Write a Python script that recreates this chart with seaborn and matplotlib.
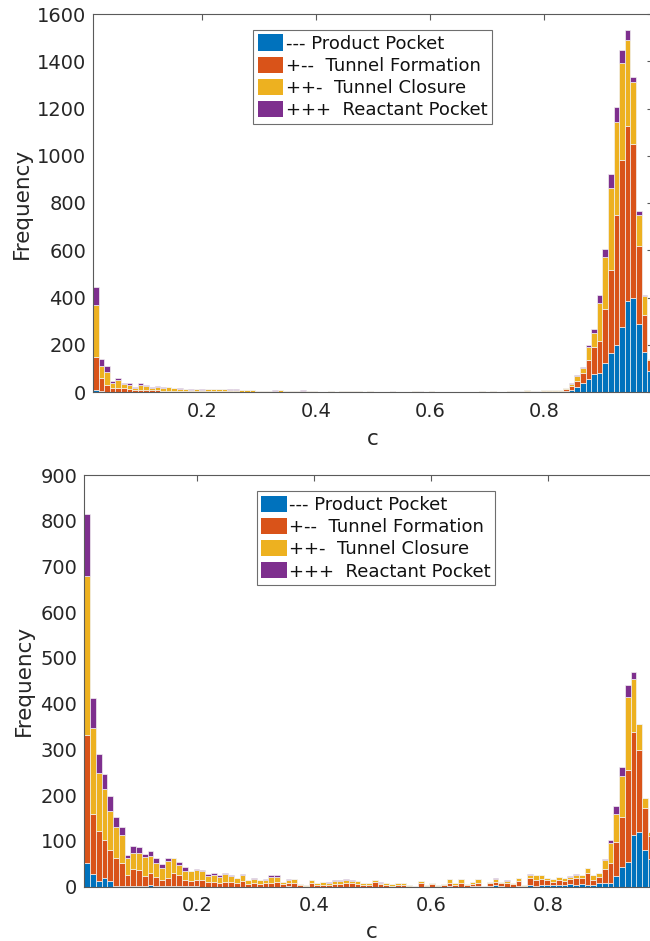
import numpy as np
import pandas as pd
import matplotlib
matplotlib.use("Agg")
import matplotlib.pyplot as plt
import seaborn as sns
from matplotlib.patches import Patch

# Histogram bins on the reaction coordinate c
bin_lo, bin_hi, n_bins = 0.008, 0.990, 100
edges = [float(e) for e in np.linspace(bin_lo, bin_hi, n_bins + 1)]
centers = [(a + b) / 2 for a, b in zip(edges[:-1], edges[1:])]

state_labels = ["--- Product Pocket", "+--  Tunnel Formation",
                "++-  Tunnel Closure", "+++  Reactant Pocket"]
state_colors = ["#0072BD", "#D95319", "#EDB120", "#7E2F8E"]

x_ticks = [0.2, 0.4, 0.6, 0.8]

# ---- upper panel: counts per bin for each state ----
top_product = [
    10, 3, 2, 1, 1, 1, 1, 0, 0, 0,
    0, 0, 0, 0, 0, 0, 0, 0, 0, 0,
    0, 0, 0, 0, 0, 0, 0, 0, 0, 0,
    0, 0, 0, 0, 0, 0, 0, 0, 0, 0,
    0, 0, 0, 0, 0, 0, 0, 0, 0, 0,
    0, 0, 0, 0, 0, 0, 0, 0, 0, 0,
    0, 0, 0, 0, 0, 0, 0, 0, 0, 0,
    0, 0, 0, 0, 0, 0, 0, 0, 0, 0,
    0, 0, 0, 1, 3, 10, 20, 37, 55, 76,
    79, 121, 166, 199, 276, 384, 398, 287, 170, 90,
]
top_formation = [
    138, 57, 26, 16, 16, 16, 13, 8, 8, 8,
    7, 8, 6, 6, 5, 5, 5, 4, 4, 3,
    3, 3, 4, 3, 3, 3, 2, 2, 2, 1,
    2, 1, 2, 2, 2, 1, 2, 1, 1, 1,
    0, 0, 0, 0, 1, 2, 2, 0, 0, 1,
    0, 0, 1, 3, 2, 0, 0, 2, 3, 0,
    0, 0, 0, 0, 0, 2, 0, 2, 0, 0,
    0, 1, 0, 2, 1, 2, 3, 3, 2, 3,
    3, 4, 4, 5, 8, 15, 25, 43, 80, 113,
    138, 232, 352, 551, 708, 744, 650, 330, 155, 45,
]
top_closure = [
    219, 50, 57, 23, 32, 17, 14, 9, 20, 17,
    11, 14, 12, 14, 10, 9, 8, 6, 8, 7,
    9, 8, 8, 8, 7, 7, 7, 5, 5, 4,
    4, 3, 4, 5, 3, 2, 3, 4, 2, 2,
    0, 2, 3, 0, 2, 3, 2, 3, 0, 3,
    0, 0, 1, 1, 0, 0, 0, 1, 0, 0,
    3, 0, 2, 0, 2, 0, 0, 0, 0, 3,
    0, 4, 0, 0, 2, 3, 3, 4, 3, 3,
    4, 5, 3, 4, 6, 10, 23, 22, 54, 62,
    160, 219, 347, 392, 407, 363, 263, 131, 80, 5,
]
top_reactant = [
    79, 31, 24, 5, 10, 6, 9, 4, 9, 6,
    2, 3, 3, 2, 3, 2, 1, 2, 1, 1,
    2, 1, 2, 2, 1, 2, 1, 0, 1, 0,
    0, 0, 1, 1, 1, 0, 0, 2, 1, 2,
    0, 0, 0, 0, 0, 0, 0, 0, 0, 0,
    0, 0, 0, 0, 0, 0, 0, 0, 0, 0,
    0, 0, 0, 0, 0, 0, 0, 0, 0, 0,
    0, 0, 0, 0, 1, 0, 0, 0, 0, 0,
    1, 0, 0, 0, 1, 2, 4, 5, 10, 14,
    33, 35, 59, 63, 56, 41, 24, 18, 7, 0,
]

# ---- lower panel ----
bottom_product = [
    52, 27, 13, 20, 13, 2, 1, 1, 1, 1,
    1, 3, 1, 1, 1, 1, 1, 1, 1, 1,
    0, 0, 0, 0, 0, 0, 0, 0, 0, 0,
    0, 0, 0, 0, 0, 1, 0, 0, 0, 0,
    0, 0, 0, 0, 0, 0, 0, 0, 0, 0,
    0, 0, 0, 0, 0, 0, 0, 0, 0, 0,
    0, 0, 0, 1, 0, 0, 0, 2, 1, 0,
    2, 3, 2, 0, 0, 2, 0, 3, 2, 4,
    4, 3, 4, 3, 5, 4, 5, 4, 4, 7,
    9, 9, 23, 42, 53, 113, 120, 80, 60, 30,
]
bottom_formation = [
    280, 131, 109, 82, 67, 60, 50, 25, 37, 35,
    23, 28, 21, 14, 19, 30, 25, 14, 12, 14,
    15, 10, 11, 9, 10, 10, 9, 12, 6, 7,
    6, 7, 9, 10, 5, 6, 8, 3, 2, 8,
    4, 4, 4, 6, 6, 7, 7, 6, 4, 3,
    10, 5, 3, 2, 4, 4, 2, 2, 8, 2,
    5, 2, 3, 7, 4, 8, 3, 4, 7, 2,
    5, 8, 5, 8, 5, 10, 2, 15, 13, 12,
    10, 8, 11, 10, 11, 14, 14, 25, 11, 15,
    29, 42, 75, 111, 202, 226, 179, 93, 50, 25,
]
bottom_closure = [
    347, 190, 126, 111, 86, 69, 63, 36, 36, 37,
    40, 37, 30, 25, 36, 31, 21, 19, 22, 21,
    19, 14, 15, 13, 17, 14, 10, 14, 8, 9,
    8, 8, 13, 12, 5, 7, 8, 3, 2, 6,
    5, 6, 5, 7, 7, 7, 6, 6, 5, 4,
    4, 4, 4, 3, 5, 5, 2, 0, 4, 2,
    4, 2, 2, 8, 5, 9, 3, 5, 8, 0,
    4, 5, 4, 5, 4, 6, 2, 8, 10, 9,
    6, 5, 6, 6, 6, 7, 6, 12, 11, 9,
    20, 44, 62, 89, 160, 116, 56, 20, 10, 5,
]
bottom_reactant = [
    136, 64, 41, 33, 32, 21, 17, 7, 15, 14,
    7, 11, 10, 10, 6, 0, 8, 8, 0, 2,
    3, 4, 3, 3, 4, 2, 1, 2, 1, 2,
    1, 1, 3, 3, 0, 2, 1, 0, 0, 1,
    0, 0, 1, 2, 2, 2, 2, 1, 0, 0,
    1, 1, 0, 0, 0, 0, 0, 0, 0, 0,
    0, 0, 0, 0, 0, 0, 0, 0, 0, 0,
    0, 2, 0, 2, 0, 2, 0, 2, 0, 0,
    0, 0, 1, 1, 2, 2, 1, 0, 0, 0,
    2, 7, 16, 20, 26, 14, 0, 0, 0, 0,
]

sns.set_theme(style="white")
plt.rcParams["font.family"] = ["DejaVu Sans"]

ink = "#262626"
frame = "#5a5a5a"

fig = plt.figure(figsize=(6.5, 9.41), dpi=100)
ax_top = fig.add_axes([93 / 650, 1 - 392 / 941, 559.7 / 650, 378 / 941])
ax_bot = fig.add_axes([84.3 / 650, 1 - 886.7 / 941, 575 / 650, 411.7 / 941])


def stacked_hist(ax, series, ymax, ystep, legend_xy, ylabel_x, xlabel_y):
    frames = [pd.DataFrame({"c": centers, "count": vals, "state": lab})
              for lab, vals in zip(state_labels, series)]
    data = pd.concat(frames, ignore_index=True)
    sns.histplot(data=data, x="c", weights="count", hue="state",
                 hue_order=state_labels[::-1], multiple="stack",
                 bins=edges, palette=dict(zip(state_labels, state_colors)),
                 alpha=1, edgecolor="#f2f2f2", linewidth=0.5,
                 legend=False, ax=ax)
    ax.set_xlim(bin_lo, bin_hi)
    ax.set_ylim(0, ymax)
    ax.set_xticks(x_ticks)
    ax.set_xticklabels([f"{t:.1f}" for t in x_ticks])
    ax.set_yticks(np.arange(0, ymax + 1, ystep))
    ax.tick_params(axis="both", direction="in", length=4, width=0.8,
                   color=frame, labelcolor=ink, labelsize=14,
                   top=True, right=True)
    ax.tick_params(axis="x", pad=7)
    ax.tick_params(axis="y", pad=5)
    for sp in ax.spines.values():
        sp.set_visible(True)
        sp.set_color(frame)
        sp.set_linewidth(0.8)
    ax.set_ylabel("Frequency", fontsize=15.5, color=ink)
    ax.set_xlabel("c", fontsize=15.5, color=ink)
    ax.yaxis.set_label_coords(ylabel_x, 0.5)
    ax.xaxis.set_label_coords(0.5, xlabel_y)

    handles = [Patch(facecolor=c, edgecolor="none") for c in state_colors]
    leg = ax.legend(handles, state_labels, loc="upper left",
                    bbox_to_anchor=legend_xy, fontsize=13,
                    handlelength=1.4, handleheight=1.0, handletextpad=0.15,
                    labelspacing=0.22, borderpad=0.25, borderaxespad=0,
                    fancybox=False, framealpha=1, edgecolor="#6e6e6e")
    leg.get_frame().set_linewidth(0.8)
    for t in leg.get_texts():
        t.set_color("#111111")


stacked_hist(ax_top, [top_product, top_formation, top_closure, top_reactant],
             1600, 200, (0.286, 0.958), -0.1095, -0.098)
stacked_hist(ax_bot, [bottom_product, bottom_formation, bottom_closure, bottom_reactant],
             900, 100, (0.300, 0.961), -0.0875, -0.0857)

fig.savefig("out.png", dpi=100)
